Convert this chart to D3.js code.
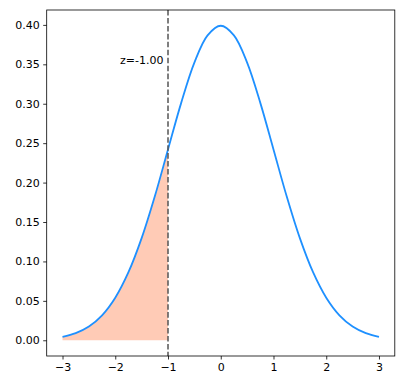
<!DOCTYPE html>
<html><head><meta charset="utf-8">
<script src="https://cdn.jsdelivr.net/npm/d3@7"></script>
<style>body{margin:0;background:#fff}text{font-family:"DejaVu Sans",sans-serif}</style>
</head><body>
<script>
const xs = [-3,-2.75,-2.5,-2.25,-2,-1.75,-1.5,-1.25,-1,-0.75,-0.5,-0.25,0,0.25,0.5,0.75,1,1.25,1.5,1.75,2,2.25,2.5,2.75,3];
const ys = [0.0044,0.0091,0.0175,0.0317,0.0540,0.0863,0.1295,0.1826,0.2420,0.3011,0.3521,0.3867,0.3989,0.3867,0.3521,0.3011,0.2420,0.1826,0.1295,0.0863,0.0540,0.0317,0.0175,0.0091,0.0044];
const zValue = -1.00;
const zLabel = "z=-1.00";
const xTicks = [-3,-2,-1,0,1,2,3];
const yTicks = [0,0.05,0.10,0.15,0.20,0.25,0.30,0.35,0.40];

const W=405,H=383, L=46.7, R=394.8, T=10, B=356;
const svg=d3.select("body").append("svg").attr("width",W).attr("height",H);
const x=d3.scaleLinear().domain([-3.3,3.3]).range([L,R]);
const y=d3.scaleLinear().domain([-0.01995,0.4189]).range([B,T]);
const pts=xs.map((v,i)=>({x:v,y:ys[i]}));
const fillPts=pts.filter(p=>p.x<=zValue);

svg.append("path").datum(fillPts)
  .attr("d",d3.area().x(d=>x(d.x)).y0(y(0)).y1(d=>y(d.y)).curve(d3.curveCatmullRom))
  .attr("fill","#ffa07a").attr("fill-opacity",0.55);
svg.append("path").datum(pts)
  .attr("d",d3.line().x(d=>x(d.x)).y(d=>y(d.y)).curve(d3.curveCatmullRom))
  .attr("fill","none").attr("stroke","#1e90ff").attr("stroke-width",1.8);
svg.append("line").attr("x1",x(zValue)).attr("x2",x(zValue)).attr("y1",T).attr("y2",B)
  .attr("stroke","#555").attr("stroke-width",1.5).attr("stroke-dasharray","5.55,2.4");
svg.append("text").attr("x",x(zValue)-4.5).attr("y",y(0.35)).attr("text-anchor","end")
  .attr("font-size",11).attr("fill","#000").text(zLabel);

svg.append("rect").attr("x",L).attr("y",T).attr("width",R-L).attr("height",B-T)
  .attr("fill","none").attr("stroke","#000").attr("stroke-width",0.8);

const fmtX=d=>String(d).replace("-","\u2212");
const xa=svg.append("g").attr("transform",`translate(0,${B})`)
  .call(d3.axisBottom(x).tickValues(xTicks).tickFormat(fmtX).tickSize(3.5).tickPadding(3.5));
const ya=svg.append("g").attr("transform",`translate(${L},0)`)
  .call(d3.axisLeft(y).tickValues(yTicks).tickFormat(d3.format(".2f")).tickSize(3.5).tickPadding(3.5));
[xa,ya].forEach(a=>{a.select(".domain").remove();
  a.selectAll("line").attr("stroke","#000").attr("stroke-width",0.8);
  a.selectAll("text").attr("font-size",11).attr("fill","#000").style("font-family","DejaVu Sans");});
</script>
</body></html>
